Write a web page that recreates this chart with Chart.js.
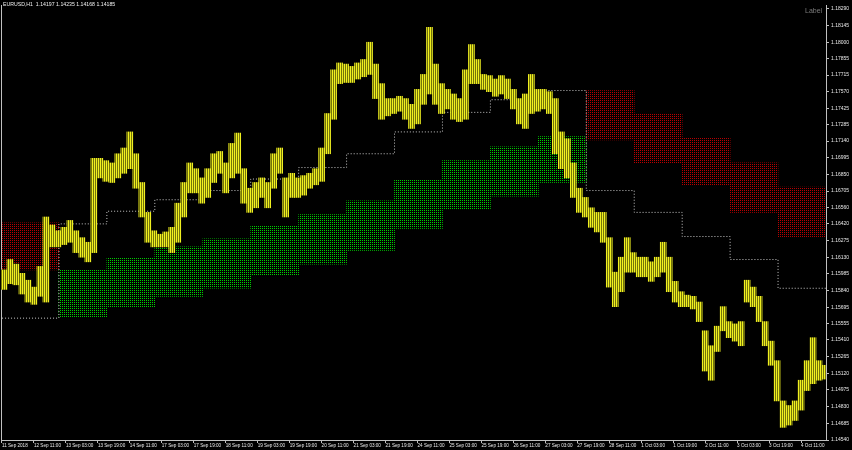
<!DOCTYPE html>
<html><head><meta charset="utf-8">
<script src="https://cdn.jsdelivr.net/npm/chart.js@4"></script>
<style>
html,body{margin:0;padding:0;background:#000;}
#wrap{position:relative;width:852px;height:450px;background:#000;}
#title{position:absolute;left:3px;top:1px;color:#f0f0f0;font:5.2px 'Liberation Sans',Arial,sans-serif;white-space:nowrap;}
#lbl{position:absolute;left:805px;top:7px;color:#7a7a7a;font:7px 'Liberation Sans',Arial,sans-serif;white-space:nowrap;}
</style></head>
<body><div id="wrap"><canvas id="c" width="852" height="450"></canvas>
<div id="title">EURUSD,H1&nbsp; 1.14197 1.14235 1.14168 1.14185</div><div id="lbl">Label</div></div>
<script>
// ---- data ----
const xTickBars = [0,16,32,48,64,80,96,112,128,144,160,176,192,208,224,240,256,272,288,304,320,336,352,368,384,400];
const xTickLabels = ['11 Sep 2018','12 Sep 11:00','13 Sep 03:00','13 Sep 19:00','14 Sep 11:00','17 Sep 03:00','17 Sep 19:00','18 Sep 11:00','19 Sep 03:00','19 Sep 19:00','20 Sep 11:00','21 Sep 03:00','21 Sep 19:00','24 Sep 11:00','25 Sep 03:00','25 Sep 19:00','26 Sep 11:00','27 Sep 03:00','27 Sep 19:00','28 Sep 11:00','1 Oct 03:00','1 Oct 19:00','2 Oct 11:00','3 Oct 03:00','3 Oct 19:00','4 Oct 11:00'];
const yTickValues = [1.18290,1.18145,1.18000,1.17855,1.17715,1.17570,1.17425,1.17285,1.17140,1.16995,1.16850,1.16705,1.16560,1.16420,1.16275,1.16130,1.15985,1.15840,1.15695,1.15555,1.15410,1.15265,1.15120,1.14975,1.14830,1.14685,1.14540];

// price samples: one per 3 hourly bars (high / low)
const priceHigh = [1.1602,1.1611,1.1607,1.1599,1.1593,1.1587,1.1605,1.1648,1.1641,1.1636,1.1639,1.1645,1.1636,1.1630,1.1626,1.1699,1.1699,1.1697,1.1695,1.1703,1.1708,1.1722,1.1703,1.1678,1.1652,1.1636,1.1633,1.1635,1.1639,1.1660,1.1678,1.1695,1.1690,1.1682,1.1690,1.1703,1.1705,1.1695,1.1712,1.1721,1.1690,1.1673,1.1678,1.1682,1.1678,1.1703,1.1708,1.1682,1.1686,1.1682,1.1684,1.1686,1.1690,1.1708,1.1738,1.1776,1.1782,1.1781,1.1779,1.1782,1.1785,1.1800,1.1781,1.1764,1.1751,1.1751,1.1753,1.1751,1.1746,1.1759,1.1772,1.1813,1.1781,1.1764,1.1759,1.1755,1.1751,1.1776,1.1798,1.1785,1.1772,1.1771,1.1768,1.1771,1.1768,1.1759,1.1751,1.1755,1.1772,1.1759,1.1759,1.1757,1.1751,1.1722,1.1716,1.1695,1.1673,1.1665,1.1656,1.1652,1.1652,1.1630,1.1600,1.1613,1.1630,1.1617,1.1613,1.1613,1.1609,1.1613,1.1626,1.1613,1.1592,1.1583,1.1580,1.1579,1.1574,1.1549,1.1536,1.1553,1.1570,1.1557,1.1555,1.1557,1.1593,1.1587,1.1579,1.1557,1.1540,1.1523,1.1488,1.1484,1.1488,1.1506,1.1523,1.1543,1.1523,1.1519];
const priceLow = [1.1585,1.1590,1.1589,1.1581,1.1574,1.1572,1.1579,1.1574,1.1622,1.1622,1.1624,1.1626,1.1617,1.1613,1.1609,1.1617,1.1682,1.1679,1.1678,1.1682,1.1686,1.1690,1.1673,1.1648,1.1626,1.1622,1.1622,1.1622,1.1617,1.1626,1.1648,1.1669,1.1669,1.1660,1.1665,1.1678,1.1686,1.1669,1.1682,1.1686,1.1660,1.1652,1.1656,1.1665,1.1656,1.1673,1.1686,1.1648,1.1665,1.1665,1.1667,1.1673,1.1676,1.1679,1.1703,1.1733,1.1764,1.1765,1.1765,1.1768,1.1770,1.1772,1.1751,1.1733,1.1736,1.1738,1.1740,1.1733,1.1725,1.1729,1.1746,1.1755,1.1746,1.1738,1.1742,1.1733,1.1731,1.1733,1.1764,1.1764,1.1759,1.1757,1.1753,1.1755,1.1751,1.1742,1.1729,1.1725,1.1738,1.1740,1.1742,1.1738,1.1703,1.1690,1.1682,1.1665,1.1652,1.1648,1.1639,1.1635,1.1626,1.1587,1.1570,1.1583,1.1600,1.1600,1.1596,1.1596,1.1592,1.1596,1.1600,1.1583,1.1574,1.1570,1.1570,1.1568,1.1557,1.1514,1.1506,1.1531,1.1549,1.1543,1.1540,1.1536,1.1574,1.1570,1.1557,1.1536,1.1519,1.1488,1.1465,1.1467,1.1471,1.1480,1.1497,1.1503,1.1506,1.1507];

// daily zones (start bar of each trading day, 24 bars each)
const zoneStartBar = [-19,5,29,53,77,101,125,149,173,197,221,245,269,293,317,341,365,389];
const zoneKind     = ['R','R','G','G','G','G','G','G','G','G','G','G','G','R','R','R','R','R'];
const zoneTop      = [1.1643,1.1643,1.1602,1.1612,1.1622,1.1629,1.1640,1.1650,1.1662,1.1680,1.1697,1.1709,1.1718,1.1758,1.1738,1.1717,1.1695,1.1674];
const zoneBottom   = [1.1602,1.1602,1.1561,1.1570,1.1579,1.1586,1.1597,1.1607,1.1619,1.1638,1.1655,1.1666,1.1678,1.1715,1.1695,1.1676,1.1652,1.1630];
const zoneLine     = [1.1560,1.1560,1.1642,1.1653,1.1663,1.1671,1.1681,1.1691,1.1703,1.1722,1.1739,1.1750,1.1758,1.1671,1.1652,1.1631,1.1611,1.1586];
const barsPerDay = 24;
const lastBar = 413;

// ---- build ----
function pattern(colors, w, h){
  const cv=document.createElement('canvas'); cv.width=w; cv.height=h;
  const g=cv.getContext('2d');
  colors.forEach(c=>{ g.fillStyle=c[2]; g.fillRect(c[0],c[1],1,1); });
  return g.createPattern(cv,'repeat');
}
const redPat = pattern([[0,0,'#b80000']],2,2);
const greenPat = pattern([[0,0,'#00d000']],2,2);
const pricePat = pattern([[0,0,'#f0f020'],[1,0,'#74740a']],2,1);

const datasets = [];
datasets.push({
  type:'bar', label:'price', order:0, yAxisID:'y', xAxisID:'x',
  data: priceHigh.map((h,k)=>({x:3*k+1, y:[priceLow[k], h]})),
  backgroundColor:pricePat, borderWidth:0, barThickness:6, grouped:false
});
// stepped dotted level line
const linePts=[];
zoneStartBar.forEach((s,i)=>{ linePts.push({x:s-0.5,y:zoneLine[i]}); linePts.push({x:s+barsPerDay-0.5,y:zoneLine[i]}); });
datasets.push({type:'line', label:'level', order:1, yAxisID:'y', xAxisID:'x', data:linePts, borderColor:'#c8c8c8', borderWidth:1, borderDash:[1,2], pointRadius:0, tension:0, fill:false});
// zones as floating bars on a hidden day axis
datasets.push({
  type:'bar', label:'zones', order:2, yAxisID:'y', xAxisID:'x2',
  data: zoneStartBar.map((s,i)=>({x:s+(barsPerDay-1)/2, y:[zoneBottom[i], zoneTop[i]]})),
  backgroundColor: zoneKind.map(k=>k==='G'?greenPat:redPat),
  borderWidth:0, barPercentage:1, categoryPercentage:1, grouped:false
});

const fontFam = "'Liberation Sans', Arial, sans-serif";
new Chart(document.getElementById('c'), {
  type:'line',
  data:{datasets},
  options:{
    responsive:false, animation:false, events:[],
    layout:{padding:0},
    plugins:{legend:{display:false}, tooltip:{enabled:false}, title:{display:false}},
    scales:{
      x:{type:'linear', position:'bottom', min:-0.5, max:lastBar-0.5, offset:false,
        grid:{display:true, drawOnChartArea:false, drawTicks:true, tickLength:3, color:'#c0c0c0', offset:false},
        border:{display:true, color:'#c0c0c0', width:1},
        ticks:{color:'#e8e8e8', font:{size:4.6, family:fontFam}, align:'start', padding:0, maxRotation:0, autoSkip:false,
          callback:(v)=>{const i=xTickBars.indexOf(v); return i>=0?xTickLabels[i]:'';}},
        afterBuildTicks:(s)=>{s.ticks=xTickBars.map(v=>({value:v}));},
        afterFit:(s)=>{s.height=10;}
      },
      x2:{type:'linear', display:false, min:-0.5, max:lastBar-0.5, offset:false,
        afterBuildTicks:(s)=>{s.ticks=[];}
      },
      y:{type:'linear', position:'right', min:1.14540, max:1.18324,
        grid:{display:true, drawOnChartArea:false, drawTicks:true, tickLength:3, color:'#c0c0c0'},
        border:{display:true, color:'#c0c0c0', width:1},
        ticks:{color:'#e8e8e8', font:{size:5, family:fontFam}, padding:2, autoSkip:false, callback:(v)=>Number(v).toFixed(5)},
        afterBuildTicks:(s)=>{s.ticks=yTickValues.map(v=>({value:v}));},
        afterFit:(s)=>{s.width=26;}
      },
      yl:{type:'linear', position:'left', grid:{display:false}, ticks:{display:false},
        border:{display:true, color:'#c0c0c0', width:1},
        afterFit:(s)=>{s.width=1;}
      }
    }
  }
});
</script></body></html>
